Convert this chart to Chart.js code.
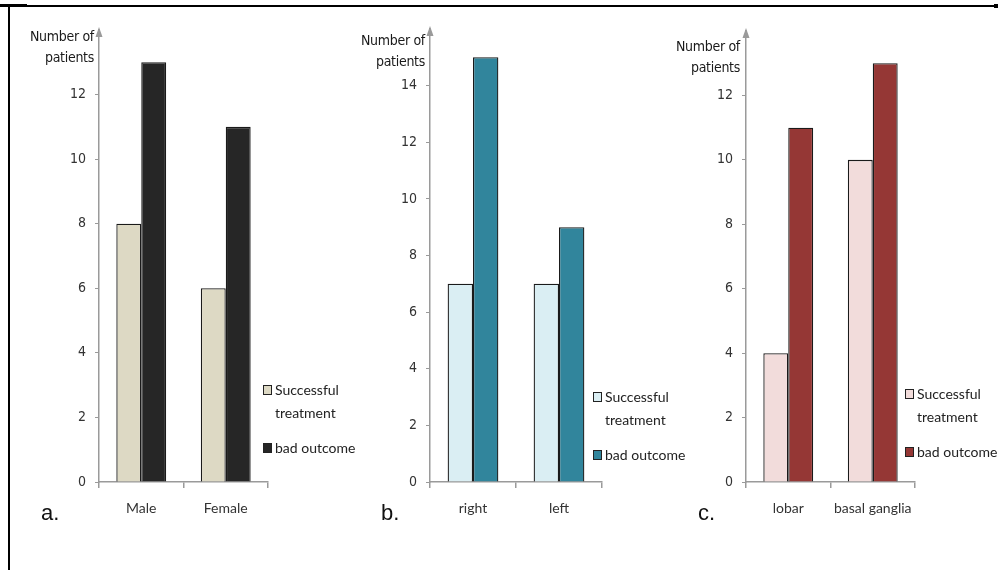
<!DOCTYPE html>
<html>
<head>
<meta charset="utf-8">
<script src="https://cdn.jsdelivr.net/npm/chart.js@4.4.1/dist/chart.umd.min.js"></script>
<style>
  html, body { margin:0; padding:0; background:#fff; }
  #wrap { position:relative; width:998px; height:570px; overflow:hidden; background:#fff; }
  canvas.c { position:absolute; top:0; }
  .frameTop { position:absolute; left:0; top:5px; width:996px; height:2px; background:#000; }
  .frameTopL { position:absolute; left:0; top:4px; width:27px; height:3px; background:#000; }
  .frameEnd { position:absolute; left:994px; top:4px; width:4px; height:4px; background:#000; }
  .frameLeft { position:absolute; left:8px; top:5px; width:2px; height:565px; background:#000; }
  .ytitle { position:absolute; font-family:"Liberation Sans Narrow","DejaVu Sans Condensed","Roboto",sans-serif; font-size:14px; line-height:21px; color:#1a1a1a; text-align:right; width:120px; letter-spacing:-0.3px; }
  .letter { position:absolute; font-family:"Liberation Sans","Arial",sans-serif; font-size:22px; color:#111; }
  .legend { position:absolute; font-family:"Lato","Open Sans",sans-serif; font-size:14px; color:#222; line-height:23px; }
  .legend .item { position:relative; padding-left:12px; width:80px; }
  .legend .item + .item { margin-top:12px; width:110px; }
  .legend .sw { position:absolute; left:0; top:7px; width:7px; height:8px; border:1px solid #222; }
</style>
</head>
<body>
<div id="wrap">
  <div class="frameTopL"></div><div class="frameTop"></div><div class="frameEnd"></div><div class="frameLeft"></div>
  <canvas class="c" id="ca"></canvas>
  <canvas class="c" id="cb"></canvas>
  <canvas class="c" id="cc"></canvas>
</div>
<script>
// ---- data ----
const seriesNames = ['Successful treatment', 'bad outcome'];
const yTitleLines = ['Number of', 'patients'];
const panelLetters = ['a.', 'b.', 'c.'];

const catsA = ['Male', 'Female'];
const successA = [8, 6];
const badA = [13, 11];

const catsB = ['right', 'left'];
const successB = [7, 7];
const badB = [15, 9];

const catsC = ['lobar', 'basal ganglia'];
const successC = [4, 10];
const badC = [11, 13];

const yMaxA = 14, yMaxB = 16, yMaxC = 14;   // axis extent (top value label hidden)
const yStep = 2;

// ---- styles ----
const colorsA = ['#DDD9C4', '#262626'];
const colorsB = ['#DAEEF3', '#31859C'];
const colorsC = ['#F2DCDB', '#953735'];
const axisGrey = '#9a9a9a';
const narrowFont = "'Liberation Sans Narrow', 'DejaVu Sans Condensed', Roboto, sans-serif";

const arrowPlugin = {
  id: 'arrow',
  afterDraw(chart) {
    const ctx = chart.ctx, a = chart.chartArea;
    const x = a.left;
    ctx.save();
    ctx.fillStyle = axisGrey;
    ctx.beginPath();
    ctx.moveTo(x, a.top - 3);
    ctx.lineTo(x - 3.5, a.top + 7);
    ctx.lineTo(x + 3.5, a.top + 7);
    ctx.closePath();
    ctx.fill();
    ctx.restore();
  }
};

function makePanel(id, cats, succ, bad, colors, yMax, geo) {
  const cv = document.getElementById(id);
  const yW = 60, padR = 20;
  const width = (geo.right - geo.axisX) + yW + padR;
  cv.width = width; cv.height = 570;
  cv.style.left = (geo.axisX - yW) + 'px';
  cv.style.width = width + 'px'; cv.style.height = '570px';
  new Chart(cv, {
    type: 'bar',
    data: {
      labels: cats,
      datasets: [
        { label: seriesNames[0], data: succ, backgroundColor: colors[0], borderColor: '#1a1a1a', borderWidth: 1.3, borderSkipped: 'bottom' },
        { label: seriesNames[1], data: bad, backgroundColor: colors[1], borderColor: '#1a1a1a', borderWidth: 1.3, borderSkipped: 'bottom' }
      ]
    },
    options: {
      responsive: false, animation: false, devicePixelRatio: 1,
      layout: { padding: { top: geo.top, right: padR, left: 0, bottom: 0 } },
      datasets: { bar: { categoryPercentage: 0.59, barPercentage: 1.0 } },
      plugins: { legend: { display: false }, tooltip: { enabled: false } },
      scales: {
        x: {
          offset: true,
          afterFit(s) { s.height = 570 - geo.bottom; },
          border: { display: true, color: axisGrey, width: 1.5 },
          grid: { offset: true, drawOnChartArea: false, drawTicks: true, tickLength: 6, color: axisGrey, lineWidth: 1.5 },
          ticks: { padding: 12, color: '#333', font: { family: 'Lato', size: 14 } }
        },
        y: {
          min: 0, max: yMax,
          afterFit(s) { s.width = yW; },
          border: { display: true, color: axisGrey, width: 1.5 },
          grid: { drawOnChartArea: false, drawTicks: true, tickLength: 4,
                  color: (c) => (c.tick && c.tick.value === yMax) ? 'rgba(0,0,0,0)' : axisGrey },
          ticks: { stepSize: yStep, padding: 9, color: '#333',
                   font: { family: narrowFont, size: 14 },
                   callback: (v) => v === yMax ? '' : v }
        }
      }
    },
    plugins: [arrowPlugin]
  });
}

const geoA = { axisX: 99, right: 268, top: 30, bottom: 482 };
const geoB = { axisX: 430, right: 602, top: 29, bottom: 482 };
const geoC = { axisX: 746, right: 915, top: 31, bottom: 482 };

makePanel('ca', catsA, successA, badA, colorsA, yMaxA, geoA);
makePanel('cb', catsB, successB, badB, colorsB, yMaxB, geoB);
makePanel('cc', catsC, successC, badC, colorsC, yMaxC, geoC);

// ---- HTML text: y titles, letters, legends ----
const wrap = document.getElementById('wrap');
function addYTitle(rightX, topY) {
  const d = document.createElement('div');
  d.className = 'ytitle';
  d.style.left = (rightX - 120) + 'px';
  d.style.top = topY + 'px';
  d.innerHTML = yTitleLines.join('<br>');
  wrap.appendChild(d);
}
function addLetter(text, x, y) {
  const d = document.createElement('div');
  d.className = 'letter';
  d.style.left = x + 'px'; d.style.top = y + 'px';
  d.textContent = text;
  wrap.appendChild(d);
}
function addLegend(x, y, colors) {
  const d = document.createElement('div');
  d.className = 'legend';
  d.style.left = x + 'px'; d.style.top = y + 'px';
  seriesNames.forEach((n, i) => {
    const it = document.createElement('div');
    it.className = 'item';
    const sw = document.createElement('span');
    sw.className = 'sw'; sw.style.background = colors[i];
    it.appendChild(sw);
    it.appendChild(document.createTextNode(n));
    d.appendChild(it);
  });
  wrap.appendChild(d);
}
addYTitle(94, 26);
addYTitle(425, 30);
addYTitle(740, 36);
addLetter(panelLetters[0], 41, 500);
addLetter(panelLetters[1], 381, 500);
addLetter(panelLetters[2], 698, 500);
addLegend(263, 378, colorsA);
addLegend(593, 385, colorsB);
addLegend(905, 382, colorsC);
</script>
</body>
</html>
